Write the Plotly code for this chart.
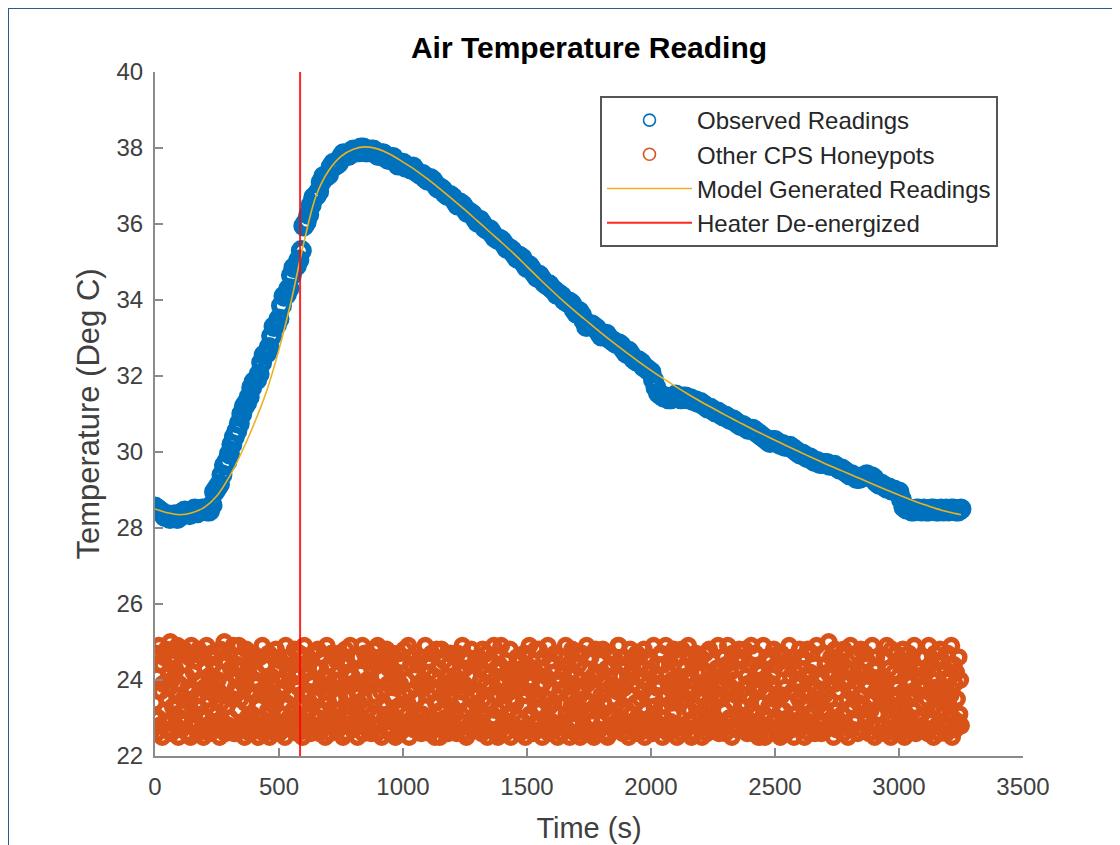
import plotly.graph_objects as go

# ---------------- data ----------------
heater_off_time = 585  # s

# Observed readings (every 10 s from 0 s)
observed_temp = [
    28.55, 28.50, 28.45, 28.40, 28.30, 28.35, 28.25, 28.30, 28.35, 28.25,
    28.30, 28.40, 28.45, 28.40, 28.35, 28.45, 28.50, 28.40, 28.45, 28.50,
    28.50, 28.45, 28.45, 28.60, 28.95, 29.05, 29.15, 29.40, 29.65, 29.75,
    29.95, 30.20, 30.40, 30.55, 30.75, 31.00, 31.20, 31.30, 31.45, 31.70,
    31.85, 31.90, 32.05, 32.35, 32.55, 32.60, 32.75, 33.05, 33.30, 33.35,
    33.50, 33.85, 34.10, 34.15, 34.30, 34.65, 34.85, 34.90, 35.05, 35.30,
    35.95, 36.05, 36.25, 36.50, 36.70, 36.75, 36.85, 37.10, 37.25, 37.25,
    37.30, 37.50, 37.60, 37.55, 37.60, 37.75, 37.85, 37.80, 37.80, 37.90,
    37.95, 37.90, 37.90, 38.00, 38.00, 37.90, 37.90, 37.95, 37.95, 37.85,
    37.80, 37.85, 37.85, 37.75, 37.70, 37.75, 37.75, 37.65, 37.55, 37.60,
    37.60, 37.50, 37.50, 37.45, 37.50, 37.40, 37.35, 37.30, 37.30, 37.20,
    37.15, 37.20, 37.15, 37.05, 36.95, 36.95, 36.90, 36.80, 36.75, 36.75,
    36.70, 36.60, 36.50, 36.55, 36.50, 36.40, 36.30, 36.30, 36.25, 36.15,
    36.05, 36.10, 36.00, 35.90, 35.85, 35.85, 35.75, 35.65, 35.60, 35.60,
    35.55, 35.45, 35.35, 35.35, 35.30, 35.20, 35.10, 35.15, 35.10, 34.95,
    34.85, 34.90, 34.80, 34.70, 34.60, 34.65, 34.55, 34.45, 34.40, 34.40,
    34.30, 34.25, 34.15, 34.15, 34.10, 34.00, 33.95, 33.95, 33.90, 33.75,
    33.65, 33.70, 33.60, 33.45, 33.30, 33.35, 33.35, 33.30, 33.25, 33.15,
    33.05, 33.10, 33.10, 33.00, 32.95, 32.90, 32.85, 32.85, 32.80, 32.70,
    32.60, 32.65, 32.55, 32.45, 32.40, 32.40, 32.35, 32.25, 32.20, 32.15,
    32.10, 31.90, 31.70, 31.55, 31.50, 31.45, 31.45, 31.40, 31.40, 31.45,
    31.50, 31.45, 31.40, 31.45, 31.45, 31.40, 31.40, 31.35, 31.35, 31.30,
    31.30, 31.25, 31.20, 31.15, 31.15, 31.10, 31.05, 31.05, 31.00, 30.95,
    30.95, 30.90, 30.85, 30.85, 30.80, 30.75, 30.70, 30.70, 30.65, 30.60,
    30.60, 30.60, 30.55, 30.50, 30.45, 30.40, 30.35, 30.30, 30.25, 30.30,
    30.30, 30.25, 30.20, 30.20, 30.15, 30.15, 30.15, 30.10, 30.05, 30.00,
    29.95, 29.95, 29.90, 29.85, 29.85, 29.80, 29.75, 29.75, 29.70, 29.70,
    29.70, 29.70, 29.65, 29.65, 29.65, 29.60, 29.55, 29.55, 29.50, 29.45,
    29.40, 29.40, 29.35, 29.30, 29.30, 29.35, 29.35, 29.40, 29.35, 29.35,
    29.30, 29.20, 29.15, 29.15, 29.10, 29.05, 29.05, 29.00, 29.00, 28.95,
    28.95, 28.75, 28.55, 28.50, 28.50, 28.45, 28.45, 28.50, 28.50, 28.45,
    28.50, 28.45, 28.45, 28.50, 28.50, 28.45, 28.45, 28.50, 28.45, 28.50,
    28.45, 28.50, 28.50, 28.45, 28.45, 28.50,
]
observed_time = [i * 10 for i in range(len(observed_temp))]

# Model generated readings (every 50 s from 0 s)
model_temp = [
    28.50, 28.40, 28.35, 28.40, 28.55, 28.85, 29.35, 30.00, 30.75, 31.60,
    32.70, 34.00, 35.50, 36.75, 37.40, 37.78, 37.97, 38.03, 37.97, 37.83,
    37.63, 37.42, 37.18, 36.92, 36.65, 36.37, 36.08, 35.79, 35.50, 35.20,
    34.88, 34.56, 34.25, 33.95, 33.67, 33.40, 33.13, 32.87, 32.62, 32.38,
    32.15, 31.93, 31.72, 31.52, 31.33, 31.15, 30.97, 30.80, 30.63, 30.47,
    30.31, 30.15, 30.00, 29.85, 29.70, 29.56, 29.42, 29.28, 29.14, 29.00,
    28.87, 28.74, 28.62, 28.51, 28.42, 28.35,
]
model_time = [i * 50 for i in range(len(model_temp))]

# Other CPS honeypots (evenly sampled over 0..3250 s)
other_temp = [
    23.4,24.7,22.6,24.1,23.0,24.9,22.8,23.7,24.4,22.5,23.9,24.6,23.2,22.9,24.8,23.5,22.7,24.2,23.8,25.0,22.6,24.0,23.3,24.5,23.1,
    24.3,22.8,23.6,24.9,22.5,23.9,24.7,23.0,22.7,24.4,23.5,24.8,22.9,23.2,24.1,22.6,23.8,24.6,23.4,22.5,24.9,23.7,22.8,24.2,23.1,
    22.9,24.5,23.3,22.6,24.8,23.6,24.0,22.7,23.1,24.6,22.5,23.8,24.3,23.0,24.9,22.8,23.5,24.1,22.6,23.9,24.7,23.2,22.9,24.4,23.6,
    24.6,23.1,22.7,24.0,23.7,22.5,24.8,23.4,24.2,22.9,23.6,25.0,22.6,24.5,23.3,23.9,22.8,24.7,23.0,24.3,22.7,23.5,24.9,22.6,24.1,
    23.8,22.6,24.4,23.2,24.9,22.8,23.5,24.6,22.7,23.9,24.1,22.5,23.4,24.8,23.0,22.9,24.3,23.7,22.6,24.5,23.1,24.7,22.8,23.6,24.0,
    22.7,24.2,23.9,22.5,23.3,24.6,23.0,22.8,24.9,23.6,22.6,24.4,23.8,24.0,22.9,23.2,24.7,22.5,23.5,24.1,22.8,23.9,24.6,23.3,22.6,
    24.8,23.5,22.9,24.3,22.6,23.7,24.5,23.1,22.7,24.0,23.8,22.5,24.9,23.4,24.2,22.8,23.0,24.6,23.6,22.7,24.4,23.2,22.9,24.8,23.9,
    23.0,24.1,22.6,23.8,24.7,22.8,23.3,24.4,22.5,23.6,24.9,23.1,22.7,24.2,23.7,22.9,24.5,23.4,22.6,24.0,23.9,24.7,22.8,23.5,24.3,
    22.8,23.6,24.8,23.0,22.6,24.3,23.9,22.7,24.6,23.2,24.1,22.5,23.7,24.9,22.9,23.4,24.4,22.6,23.1,24.7,23.8,22.8,24.0,23.5,22.7,
    24.5,23.2,22.7,24.7,23.5,24.0,22.9,23.8,22.5,24.4,23.1,24.8,22.6,23.6,24.2,23.0,22.8,24.9,23.3,24.1,22.7,23.9,24.6,22.9,23.4,
    23.7,22.5,24.6,23.4,22.8,24.2,23.0,24.9,22.6,23.5,24.7,23.8,22.9,24.0,23.2,22.7,24.5,23.9,22.6,24.3,23.1,22.8,24.8,23.6,24.4,
    22.6,24.9,23.1,22.8,24.4,23.7,22.5,24.1,23.4,24.6,22.9,23.3,24.8,22.7,23.9,24.3,23.0,22.6,24.7,23.5,22.9,24.2,23.8,22.5,24.0,
    24.1,23.3,24.7,22.6,23.9,22.9,24.5,23.2,22.7,24.8,23.6,22.8,24.0,23.4,24.9,22.5,23.7,24.4,22.9,23.0,24.6,22.7,23.5,24.2,23.1,
    23.5,24.4,22.8,23.9,24.6,22.6,23.1,24.0,23.8,22.7,24.9,23.3,22.9,24.5,23.6,24.2,22.6,23.0,24.7,22.8,23.7,24.1,22.5,23.4,24.8,
    22.9,23.8,24.3,22.5,23.2,24.8,22.7,23.6,24.5,23.0,22.8,24.1,23.9,22.6,24.4,23.5,24.7,22.9,23.3,24.0,22.7,24.6,23.1,23.8,22.6,
    24.7,22.7,23.4,24.2,22.9,23.7,24.9,22.6,23.9,24.3,23.2,22.5,24.6,23.8,22.8,24.1,23.3,24.8,22.7,23.6,24.4,22.9,23.0,24.5,23.7,
    23.3,24.6,22.9,23.1,24.0,22.6,24.8,23.5,22.8,24.2,23.9,24.7,22.5,23.4,24.1,22.7,23.8,24.5,23.0,22.9,24.9,23.6,22.6,24.3,23.2,
    22.5,23.9,24.4,22.7,24.9,23.3,22.8,24.0,23.6,22.6,24.5,23.1,24.2,22.9,23.7,24.8,22.5,23.5,24.3,23.9,22.8,24.1,23.4,22.7,24.6,
    24.2,23.0,22.6,24.5,23.8,24.1,22.9,23.3,24.7,22.5,23.6,24.4,22.8,23.9,24.9,23.1,22.7,24.0,23.7,22.6,24.3,23.5,24.8,22.9,23.2,
    23.6,24.8,23.2,22.7,24.3,22.5,23.9,24.6,23.0,24.1,22.8,23.5,24.9,22.6,23.3,24.5,23.8,22.9,24.2,23.4,22.7,24.7,23.1,24.0,22.5,
    22.8,24.0,23.7,24.6,22.6,23.4,24.2,22.9,23.8,24.9,23.1,22.7,24.4,23.6,22.5,24.1,23.3,24.8,22.8,23.9,24.5,22.6,23.2,24.7,23.5,
    24.4,23.1,22.5,23.8,24.7,23.0,22.8,24.3,23.5,22.6,24.9,23.9,22.7,24.0,23.4,24.6,22.9,23.2,24.1,22.5,23.7,24.8,23.3,22.6,24.2,
    23.2,22.7,24.5,23.6,22.9,24.8,23.4,24.0,22.6,23.9,24.3,22.5,23.1,24.7,23.8,22.8,24.4,23.0,22.7,24.6,23.5,24.1,22.9,23.7,24.9,
    24.9,23.7,22.8,24.1,23.3,22.6,24.6,23.8,24.4,22.9,23.2,24.0,22.5,23.6,24.8,23.1,22.7,24.3,23.9,24.5,22.6,23.4,24.7,22.8,23.0,
    22.6,24.3,23.5,22.9,24.0,23.7,24.8,22.5,23.2,24.6,22.8,23.9,24.2,23.0,22.7,24.5,23.6,22.6,24.9,23.3,24.1,22.9,23.8,24.4,22.7,
    23.9,22.8,24.7,23.3,22.5,24.4,23.0,22.7,24.9,23.6,24.2,22.6,23.8,24.5,22.9,23.4,24.0,23.1,24.8,22.7,23.5,24.6,22.5,24.1,23.7,
    24.0,23.4,22.6,24.8,23.9,22.8,23.5,24.3,22.7,24.1,23.7,24.9,22.9,23.2,24.6,22.5,23.8,24.4,23.0,22.6,24.7,23.3,24.2,22.8,23.6,
    23.1,24.6,23.8,22.5,24.2,23.5,22.9,24.7,23.3,22.6,24.0,23.9,24.8,22.7,23.4,24.5,22.8,23.7,24.1,23.0,22.9,24.3,23.6,24.9,22.6,
    22.7,23.5,24.1,23.9,22.8,24.6,23.2,22.6,24.4,23.7,24.9,22.9,23.0,24.2,23.8,22.5,24.7,23.4,22.8,24.0,23.6,22.7,24.5,23.1,24.8,
    24.6,22.9,23.3,24.5,23.0,22.7,24.8,23.6,24.1,22.6,23.9,24.4,22.8,23.5,24.9,23.2,22.6,24.0,23.8,24.7,22.9,23.1,24.3,22.5,23.4,
    23.8,24.2,22.7,23.4,24.9,23.1,22.5,24.0,23.7,24.6,22.8,23.3,24.5,22.6,23.9,24.1,22.9,24.8,23.5,22.7,24.4,23.0,22.6,24.7,23.6,
    22.5,24.7,23.6,22.9,23.2,24.3,23.8,22.6,24.5,23.0,22.8,24.9,23.4,24.1,22.7,23.7,24.6,22.5,23.1,24.2,23.9,22.8,24.0,23.5,24.8,
    24.3,23.0,24.6,22.8,23.7,22.5,24.1,23.4,22.9,24.8,23.6,22.6,24.2,23.9,24.7,22.8,23.2,24.4,22.6,23.8,24.9,23.3,22.7,24.0,23.5,
    23.4,22.6,24.0,24.7,22.9,23.6,24.4,22.7,23.1,24.2,25.0,23.5,22.8,24.6,23.0,24.1,22.5,23.9,24.8,23.2,22.7,24.5,23.7,22.9,24.3,
    22.9,24.4,23.1,22.6,24.8,23.9,22.8,24.3,23.5,22.5,24.0,23.7,24.9,22.7,23.3,24.6,23.8,22.9,24.1,23.0,24.7,22.6,23.4,24.2,23.6,
    24.8,23.6,22.7,24.2,23.3,24.7,22.9,23.0,24.5,23.8,22.6,24.1,23.2,22.8,24.9,23.5,24.3,22.5,23.7,24.6,23.1,22.8,24.0,23.9,22.6,
    23.5,24.1,23.9,22.8,24.6,22.6,23.7,24.9,22.7,23.4,24.3,23.0,22.5,24.8,23.6,22.9,24.2,23.3,24.7,22.6,23.8,24.5,22.9,23.1,24.4,
    22.6,23.3,24.8,23.7,22.5,24.4,23.1,22.9,24.0,24.7,23.5,22.7,23.9,24.5,22.8,23.2,24.9,23.6,22.6,24.3,23.0,24.1,22.7,23.8,24.6,
    24.1,22.8,23.4,24.6,23.9,22.7,24.2,23.5,22.6,24.9,23.0,24.4,22.9,23.7,24.0,22.5,23.3,24.7,23.8,22.8,24.5,23.2,22.6,24.8,23.6,
    23.7,24.5,22.9,23.2,24.3,23.8,22.6,24.7,23.4,22.8,24.1,23.6,24.9,22.5,23.0,24.4,23.9,22.7,24.2,23.5,22.9,24.6,23.1,24.0,22.8,
]
other_time = [3250 * i / (len(other_temp) - 1) for i in range(len(other_temp))]

x_ticks = [0, 500, 1000, 1500, 2000, 2500, 3000, 3500]
y_ticks = [22, 24, 26, 28, 30, 32, 34, 36, 38, 40]

# ---------------- styling ----------------
BLUE = "#0072BD"
ORANGE = "#D95319"
YELLOW = "#EDB120"
RED = "rgba(255,0,0,0.85)"
FONT = "Liberation Sans, Arial, Helvetica, sans-serif"
AX = "#8a8a8a"
TXT = "#404040"

fig = go.Figure()
# data marks (dense, thick rings so the clouds read as solid bands)
fig.add_trace(go.Scatter(
    x=observed_time, y=observed_temp, mode="markers", name="Observed Readings",
    showlegend=False,
    marker=dict(symbol="circle-open", size=15, color=BLUE, line=dict(width=6, color=BLUE)),
))
fig.add_trace(go.Scatter(
    x=other_time, y=other_temp, mode="markers", name="Other CPS Honeypots",
    showlegend=False,
    marker=dict(symbol="circle-open", size=12.5, color=ORANGE, line=dict(width=5.5, color=ORANGE)),
))
# legend entries with the thin MATLAB-style ring
fig.add_trace(go.Scatter(
    x=[None], y=[None], mode="markers", name="Observed Readings",
    marker=dict(symbol="circle-open", size=12, color=BLUE, line=dict(width=1.6, color="#3a8fd0")),
))
fig.add_trace(go.Scatter(
    x=[None], y=[None], mode="markers", name="Other CPS Honeypots",
    marker=dict(symbol="circle-open", size=12, color=ORANGE, line=dict(width=1.6, color="#e07a4e")),
))
fig.add_trace(go.Scatter(
    x=model_time, y=model_temp, mode="lines", name="Model Generated Readings",
    line=dict(color=YELLOW, width=1.6, shape="spline"),
))
fig.add_trace(go.Scatter(
    x=[heater_off_time, heater_off_time], y=[y_ticks[0], y_ticks[-1]], mode="lines",
    name="Heater De-energized", line=dict(color=RED, width=2),
))

# page body has an 8 px offset; margins are set so the axes land where the reference has them
L, R, T, B = 147, 105, 64, 97
PW, PH = 1120 - L - R, 845 - T - B

def px(xp):
    return (xp - L) / PW

def py(yp):
    return (845 - B - yp) / PH

fig.update_layout(
    width=1120, height=845,
    margin=dict(l=L, r=R, t=T, b=B),
    paper_bgcolor="white", plot_bgcolor="white",
    font=dict(family=FONT, color=TXT),
    title=dict(text="<b>Air Temperature Reading</b>", x=0.5, xref="paper",
               y=1 - 39 / 845, yanchor="middle", xanchor="center",
               font=dict(size=30, color="#000000", family=FONT)),
    xaxis=dict(range=[0, 3500], tickvals=x_ticks, showgrid=False, zeroline=False,
               showline=True, linecolor=AX, linewidth=2, ticks="inside", ticklen=8,
               tickcolor=AX, tickwidth=2, tickfont=dict(size=24, color=TXT),
               ticklabelstandoff=8,
               title=dict(text="Time (s)", font=dict(size=29, color=TXT), standoff=19)),
    yaxis=dict(range=[22, 40], tickvals=y_ticks, showgrid=False, zeroline=False,
               showline=True, linecolor=AX, linewidth=2, ticks="inside", ticklen=8,
               tickcolor=AX, tickwidth=2, tickfont=dict(size=24, color=TXT),
               ticklabelstandoff=5,
               title=dict(text="Temperature (Deg C)", font=dict(size=31, color=TXT), standoff=8)),
    legend=dict(x=px(592), y=py(88), xanchor="left", yanchor="top",
                bgcolor="white", bordercolor="#555555", borderwidth=2,
                font=dict(size=24, color="#262626", family=FONT),
                itemwidth=85, tracegroupgap=0),
    shapes=[
        dict(type="line", xref="paper", yref="paper", x0=px(0), x1=px(1125),
             y0=py(0), y1=py(0), line=dict(color="#2a5a8c", width=2)),
        dict(type="line", xref="paper", yref="paper", x0=px(0), x1=px(0),
             y0=py(0), y1=py(850), line=dict(color="#2a5a8c", width=2)),
    ],
)

fig.write_html("out.html")
